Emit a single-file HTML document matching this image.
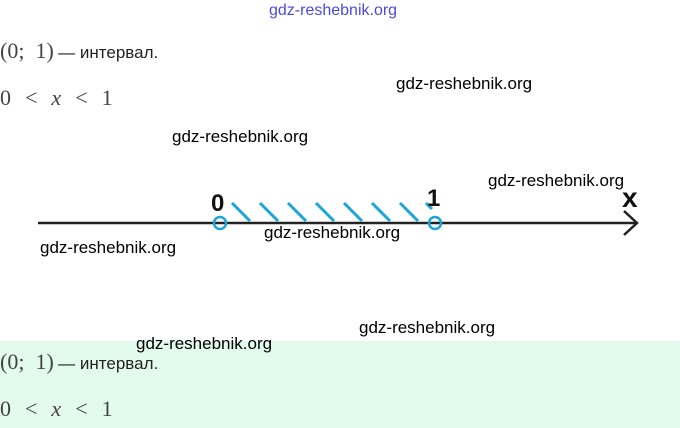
<!DOCTYPE html>
<html><head><meta charset="utf-8"><style>
html,body{margin:0;padding:0;background:#fff;}
body{width:680px;height:428px;position:relative;overflow:hidden;font-family:"Liberation Sans",sans-serif;}
.wm{position:absolute;font-family:"Liberation Sans",sans-serif;font-size:17px;color:#000;}
.math{position:absolute;font-family:"Liberation Serif",serif;font-size:22px;color:#444;}
.ru{font-family:"Liberation Sans",sans-serif;font-size:17px;color:#222;}
.s{display:inline-block;width:14px;}
</style></head><body>
<div style="position:absolute;left:0;top:341px;width:680px;height:87px;background:#e3fbec;"></div>
<div class="wm" style="left:269px;top:2px;color:#4a4adf;font-size:16px;">gdz-reshebnik.org</div>
<div class="math" style="left:0;top:38px;">(0;&nbsp;&nbsp;1)&thinsp;<span class="ru">— интервал.</span></div>
<div class="math" style="left:0;top:85px;">0<span class="s"></span>&lt;<span class="s"></span><i>x</i><span class="s"></span>&lt;<span class="s"></span>1</div>
<div class="wm" style="left:396px;top:74px;">gdz-reshebnik.org</div>
<div class="wm" style="left:172px;top:127px;">gdz-reshebnik.org</div>
<div class="wm" style="left:488px;top:171px;">gdz-reshebnik.org</div>
<svg style="position:absolute;left:0;top:0" width="680" height="428">
<line x1="38" y1="223" x2="636" y2="223" stroke="#222" stroke-width="2.5"/>
<polyline points="624,211 637,223 624,235" fill="none" stroke="#222" stroke-width="2.5"/>
<g stroke="#1aa6d8" stroke-width="3">
<line x1="232" y1="203" x2="250" y2="221"/>
<line x1="260" y1="203" x2="278" y2="221"/>
<line x1="288" y1="203" x2="306" y2="221"/>
<line x1="316" y1="203" x2="334" y2="221"/>
<line x1="344" y1="203" x2="362" y2="221"/>
<line x1="372" y1="203" x2="390" y2="221"/>
<line x1="400" y1="203" x2="418" y2="221"/>
<line x1="426" y1="203" x2="432" y2="209"/>
</g>
<circle cx="220" cy="223" r="6" fill="none" stroke="#1aa6d8" stroke-width="2.5"/>
<circle cx="435" cy="223" r="6" fill="none" stroke="#1aa6d8" stroke-width="2.5"/>
<text x="211" y="211" font-family="Liberation Sans" font-weight="bold" font-size="24" fill="#111">0</text>
<text x="427" y="206" font-family="Liberation Sans" font-weight="bold" font-size="24" fill="#111">1</text>
<text x="622" y="207" font-family="Liberation Sans" font-weight="bold" font-size="28" fill="#111">x</text>
</svg>
<div class="wm" style="left:264px;top:223px;">gdz-reshebnik.org</div>
<div class="wm" style="left:40px;top:238px;">gdz-reshebnik.org</div>
<div class="wm" style="left:359px;top:318px;">gdz-reshebnik.org</div>
<div class="wm" style="left:136px;top:334px;">gdz-reshebnik.org</div>
<div class="math" style="left:0;top:349px;">(0;&nbsp;&nbsp;1)&thinsp;<span class="ru">— интервал.</span></div>
<div class="math" style="left:0;top:396px;">0<span class="s"></span>&lt;<span class="s"></span><i>x</i><span class="s"></span>&lt;<span class="s"></span>1</div>
</body></html>
